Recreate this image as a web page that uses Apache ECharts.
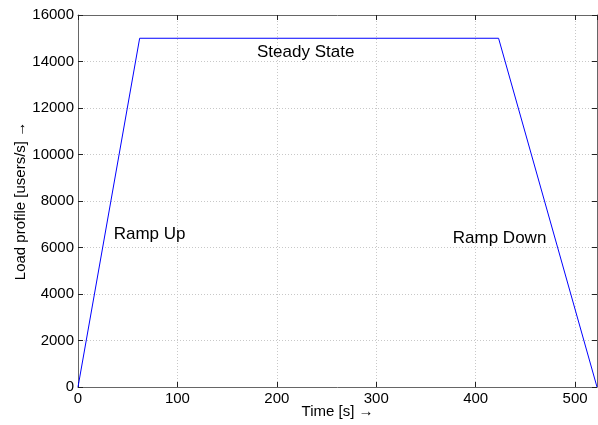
<!DOCTYPE html>
<html>
<head>
<meta charset="utf-8">
<script src="https://cdn.jsdelivr.net/npm/echarts@6/dist/echarts.min.js"></script>
<style>
  html, body { margin: 0; padding: 0; background: #fff; }
  #chart { width: 598px; height: 425px; }
</style>
</head>
<body>
<div id="chart"></div>
<script>
// load profile: ramp up, steady state, ramp down
const timeSec = [0, 62, 423, 522];
const usersPerSec = [0, 15000, 15000, 0];
const phaseLabels = ['Ramp Up', 'Steady State', 'Ramp Down'];
const labelPos = [[72, 6560], [229, 14400], [424, 6390]];

const font = 'Liberation Sans, Arial, Helvetica, sans-serif';
const frameColor = '#666';

const chart = echarts.init(document.getElementById('chart'));

const frameAxis = {
    type: 'value',
    min: 0,
    axisLine: { show: true, onZero: false, lineStyle: { color: frameColor } },
    axisTick: { show: true, inside: true, length: 5, lineStyle: { color: '#222' } },
    axisLabel: { show: false },
    splitLine: { show: false }
};

chart.setOption({
    animation: false,
    grid: { left: 78, right: 1, top: 15, bottom: 38, outerBoundsMode: 'none', containLabel: false },
    xAxis: [
        {
            type: 'value',
            min: 0,
            max: 522,
            interval: 100,
            name: 'Time [s] \u2192',
            nameLocation: 'middle',
            nameGap: 17,
            nameMoveOverlap: false,
            nameTextStyle: { color: '#000', fontFamily: font, fontSize: 15, verticalAlign: 'top' },
            axisLine: { onZero: false, lineStyle: { color: frameColor } },
            axisTick: { inside: true, length: 5, lineStyle: { color: '#222' } },
            axisLabel: { color: '#000', fontFamily: font, fontSize: 15, margin: 4 },
            splitLine: { show: true, lineStyle: { color: '#c8c8c8', type: [1, 2] } }
        },
        Object.assign({}, frameAxis, { position: 'top', max: 522, interval: 100 })
    ],
    yAxis: [
        {
            type: 'value',
            min: 0,
            max: 16000,
            interval: 2000,
            name: 'Load profile [users/s] \u2192',
            nameLocation: 'middle',
            nameGap: 50,
            nameMoveOverlap: false,
            nameTextStyle: { color: '#000', fontFamily: font, fontSize: 15 },
            axisLine: { onZero: false, lineStyle: { color: frameColor } },
            axisTick: { inside: true, length: 5, lineStyle: { color: '#222' } },
            axisLabel: { color: '#000', fontFamily: font, fontSize: 15, margin: 4, formatter: v => String(v) },
            splitLine: { show: true, lineStyle: { color: '#c8c8c8', type: [1, 2] } }
        },
        Object.assign({}, frameAxis, { position: 'right', max: 16000, interval: 2000 })
    ],
    series: [
        {
            type: 'line',
            data: timeSec.map((t, i) => [t, usersPerSec[i]]),
            symbol: 'none',
            lineStyle: { color: '#0000ff', width: 1 }
        },
        {
            // phase annotations placed in data space
            type: 'scatter',
            symbolSize: 0,
            silent: true,
            data: labelPos,
            label: {
                show: true,
                position: 'top',
                distance: 0,
                verticalAlign: 'middle',
                color: '#000',
                opacity: 1,
                textBorderWidth: 0,
                fontFamily: font,
                fontSize: 17,
                formatter: p => phaseLabels[p.dataIndex]
            }
        }
    ]
});
</script>
</body>
</html>
